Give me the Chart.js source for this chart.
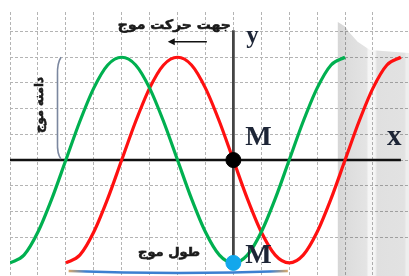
<!DOCTYPE html>
<html><head><meta charset="utf-8">
<script src="https://cdn.jsdelivr.net/npm/chart.js@4/dist/chart.umd.min.js"></script>
<style>html,body{margin:0;padding:0;background:#fff;}#wrap{width:409px;height:276px;position:relative;}</style>
</head><body><div id="wrap"><canvas id="c"></canvas></div>
<script>
// Wave samples (grid units)
const greenX = [-8,-7.5,-7,-6.5,-6,-5.5,-5,-4.5,-4,-3.5,-3,-2.5,-2,-1.5,-1,-0.5,0,0.5,1,1.5,2,2.5,3,3.5,4];
const greenY = [-4,-3.7,-2.8,-1.5,0,1.5,2.8,3.7,4,3.7,2.8,1.5,0,-1.5,-2.8,-3.7,-4,-3.7,-2.8,-1.5,0,1.5,2.8,3.7,4];
const redX = [-6,-5.5,-5,-4.5,-4,-3.5,-3,-2.5,-2,-1.5,-1,-0.5,0,0.5,1,1.5,2,2.5,3,3.5,4,4.5,5,5.5,6];
const redY = [-4,-3.7,-2.8,-1.5,0,1.5,2.8,3.7,4,3.7,2.8,1.5,0,-1.5,-2.8,-3.7,-4,-3.7,-2.8,-1.5,0,1.5,2.8,3.7,4];
const xAxisX = [-8, 6];
const xAxisY = [0, 0];
const yAxisX = [0, 0];
const yAxisY = [-4, 5.05];
const pointM1 = [0, 0];
const pointM2 = [0, -4];
// Shaded (scanned page edge) outline, data coords
const shadeX = [3.74, 3.74, 4.0, 4.17, 4.45, 4.89, 6.3, 6.3];
const shadeY = [-4.6, 5.37, 5.2, 4.94, 4.6, 4.28, 4.16, -4.6];
const labels = { dir: 'جهت حرکت موج', amp: 'دامنه موج', len: 'طول موج', x: 'x', y: 'y', m: 'M' };

const pts = (xs, ys) => xs.map((x, i) => ({ x, y: ys[i] }));

function fitText(ctx, text, cx, cy, w, size, rot) {
  ctx.save();
  ctx.font = 'bold ' + size + 'px "DejaVu Sans"';
  const mw = ctx.measureText(text).width;
  ctx.translate(cx, cy);
  if (rot) ctx.rotate(rot);
  ctx.scale(w / mw, 1);
  ctx.textAlign = 'center';
  ctx.textBaseline = 'middle';
  ctx.fillStyle = '#1a1a1a';
  ctx.strokeStyle = '#1a1a1a';
  ctx.lineWidth = 0.6;
  ctx.fillText(text, 0, 0);
  ctx.strokeText(text, 0, 0);
  ctx.restore();
}

const decor = {
  id: 'decor',
  beforeDatasetsDraw(chart) {
    const ctx = chart.ctx, sx = chart.scales.x, sy = chart.scales.y;
    ctx.save();
    ctx.beginPath();
    shadeX.forEach((x, i) => {
      const X = sx.getPixelForValue(x), Y = sy.getPixelForValue(shadeY[i]);
      i ? ctx.lineTo(X, Y) : ctx.moveTo(X, Y);
    });
    ctx.closePath();
    const x0 = sx.getPixelForValue(3.74), x1 = sx.getPixelForValue(6.3);
    const g = ctx.createLinearGradient(x0, 0, x1, 0);
    g.addColorStop(0, '#d6d6d6');
    g.addColorStop(0.17, '#dedede');
    g.addColorStop(0.40, '#e4e4e4');
    g.addColorStop(0.43, '#f5f5f5');
    g.addColorStop(0.52, '#f5f5f5');
    g.addColorStop(0.55, '#e0e0e0');
    g.addColorStop(0.93, '#e2e2e2');
    g.addColorStop(0.96, '#eeeeee');
    g.addColorStop(1, '#eeeeee');
    ctx.globalCompositeOperation = 'multiply';
    ctx.fillStyle = g;
    ctx.fill();
    ctx.restore();
  },
  afterDatasetsDraw(chart) {
    const ctx = chart.ctx, sx = chart.scales.x, sy = chart.scales.y;
    const ox = sx.getPixelForValue(0), oy = sy.getPixelForValue(0);
    // direction title + arrow
    fitText(ctx, labels.dir, ox - 59, 26, 113, 13);
    ctx.save();
    ctx.strokeStyle = '#111'; ctx.fillStyle = '#111'; ctx.lineWidth = 1.5;
    const ay = sy.getPixelForValue(4.6);
    const ax1 = sx.getPixelForValue(-0.95), ax2 = sx.getPixelForValue(-2.35);
    ctx.beginPath(); ctx.moveTo(ax1, ay); ctx.lineTo(ax2 + 5, ay); ctx.stroke();
    ctx.beginPath(); ctx.moveTo(ax2, ay); ctx.lineTo(ax2 + 7, ay - 3.5); ctx.lineTo(ax2 + 7, ay + 3.5); ctx.closePath(); ctx.fill();
    ctx.restore();
    // amplitude label + bracket
    fitText(ctx, labels.amp, 40, 105, 56, 12, -Math.PI / 2);
    ctx.save();
    const bt = sy.getPixelForValue(4), bb = oy;
    ctx.strokeStyle = '#7b879f'; ctx.lineWidth = 1.6;
    ctx.beginPath();
    ctx.moveTo(61, bt);
    ctx.quadraticCurveTo(57, bt + 6, 57.5, bt + 18);
    ctx.lineTo(57.5, bb - 18);
    ctx.quadraticCurveTo(57, bb - 6, 61, bb - 1);
    ctx.stroke();
    ctx.restore();
    // wavelength label + brace
    fitText(ctx, labels.len, 169, 253, 62, 12);
    ctx.save();
    const wl = sx.getPixelForValue(-5.9), wr = sx.getPixelForValue(1.95);
    const gb = ctx.createLinearGradient(wl, 0, wr, 0);
    gb.addColorStop(0, '#d9a86a'); gb.addColorStop(0.08, '#3c7fd0'); gb.addColorStop(0.92, '#3c7fd0'); gb.addColorStop(1, '#d9a86a');
    ctx.strokeStyle = gb; ctx.lineWidth = 2.5;
    ctx.beginPath(); ctx.moveTo(wl, 271); ctx.quadraticCurveTo((wl + wr) / 2, 275, wr, 271); ctx.stroke();
    ctx.restore();
    // axis letters and M labels
    ctx.save();
    ctx.fillStyle = '#1d2536';
    ctx.textAlign = 'left'; ctx.textBaseline = 'alphabetic';
    ctx.font = 'bold 25px "Liberation Serif"';
    ctx.fillText(labels.y, ox + 13, 43);
    ctx.font = 'bold 29px "Liberation Serif"';
    ctx.fillText(labels.x, 387, oy - 15);
    ctx.font = 'bold 28px "Liberation Serif"';
    ctx.fillText(labels.m, ox + 12, oy - 15);
    ctx.fillText(labels.m, ox + 12, sy.getPixelForValue(-4));
    ctx.restore();
  }
};

new Chart(document.getElementById('c'), {
  type: 'scatter',
  data: {
    datasets: [
      { data: pts([pointM1[0]], [pointM1[1]]), backgroundColor: '#000', borderColor: '#000', pointRadius: 7.5, order: 0 },
      { data: pts([pointM2[0]], [pointM2[1]]), backgroundColor: '#12a7ec', borderColor: '#12a7ec', pointRadius: 7.5, order: 0 },
      { data: pts(greenX, greenY), showLine: true, borderColor: '#00b050', borderWidth: 3.2, pointRadius: 0, cubicInterpolationMode: 'monotone', order: 1 },
      { data: pts(redX, redY), showLine: true, borderColor: '#ff1010', borderWidth: 3.2, pointRadius: 0, cubicInterpolationMode: 'monotone', order: 2 },
      { data: pts(xAxisX, xAxisY), showLine: true, borderColor: '#111', borderWidth: 2.5, pointRadius: 0, order: 3 },
      { data: pts(yAxisX, yAxisY), showLine: true, borderColor: '#444', borderWidth: 2.8, pointRadius: 0, order: 3 }
    ]
  },
  options: {
    responsive: true, maintainAspectRatio: false, animation: false,
    layout: { autoPadding: false, padding: { left: 10, top: 12, right: 0, bottom: 0 } },
    plugins: { legend: { display: false }, tooltip: { enabled: false } },
    scales: {
      x: {
        type: 'linear', min: -8, max: 6.29,
        ticks: { display: false, stepSize: 1 },
        afterBuildTicks: a => { a.ticks = a.ticks.filter(t => Number.isInteger(t.value)); },
        grid: { color: '#b4b4b4', lineWidth: 1, drawTicks: false },
        border: { display: false, dash: [3, 2] }
      },
      y: {
        type: 'linear', min: -4.51, max: 5.76,
        ticks: { display: false, stepSize: 1 },
        afterBuildTicks: a => { a.ticks = a.ticks.filter(t => Number.isInteger(t.value)); },
        grid: { color: '#b4b4b4', lineWidth: 1, drawTicks: false },
        border: { display: false, dash: [3, 2] }
      }
    }
  },
  plugins: [decor]
});
</script></body></html>
